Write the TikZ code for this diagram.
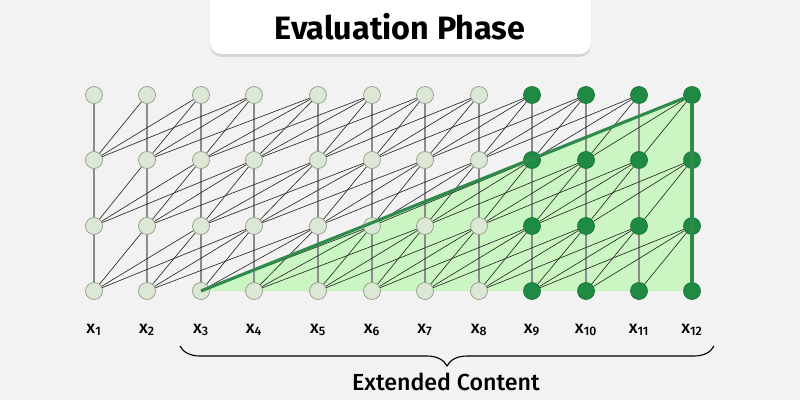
\documentclass[tikz,border=0pt]{standalone}
\usepackage{fontspec}
\setmainfont{Fira Sans}
\newfontfamily\medfont{Fira Sans Medium}
\usetikzlibrary{decorations.pathreplacing, shadows, backgrounds}

\definecolor{bgcol}{HTML}{F2F2F2}
\definecolor{tokfill}{HTML}{DCE8D3}
\definecolor{tokline}{HTML}{909C8C}
\definecolor{hotfill}{HTML}{1E8A43}
\definecolor{hotline}{HTML}{18743A}
\definecolor{fieldfill}{HTML}{CBF5C2}
\definecolor{fieldline}{HTML}{2E8B4C}

\begin{document}
\begin{tikzpicture}[x=0.025cm, y=-0.025cm,
		tok/.style = {circle, minimum size=0.425cm, inner sep=0pt, fill=tokfill, draw=tokline, line width=.5pt},
		hot/.style = {tok, fill=hotfill, draw=hotline},
		link/.style = {black!85, line width=.45pt},
		stem/.style = {gray!90, line width=.8pt},
		lbl/.style = {font=\fontsize{12.5}{14}\selectfont\medfont},
	]
		\useasboundingbox (0, 0) rectangle (800, 400);

		% tokens
		\foreach \c/\x in {1/94, 2/147, 3/201, 4/254, 5/318, 6/372, 7/425, 8/479, 9/532, 10/586, 11/639, 12/692} {
			\foreach \r/\y in {0/291, 1/226, 2/160, 3/95} {
				\ifnum\c>8
					\node[hot] (t-\r-\c) at (\x, \y) {};
				\else
					\node[tok] (t-\r-\c) at (\x, \y) {};
				\fi
			}
			\node[lbl] (x-\c) at (\x, 330) {x\textsubscript{\c}};
		}

		% background and receptive field of x12
		\begin{scope}[on background layer]
			\fill[bgcol] (0, 0) rectangle (800, 400);
			\fill[fieldfill] (t-0-3.center) -- (t-3-12.center) -- (t-0-12.center) -- cycle;
		\end{scope}

		% title
		\fill[white, rounded corners=8pt, drop shadow={shadow xshift=0pt, shadow yshift=-2pt, opacity=.25}] (210, -20) rectangle (591, 54);
		\node[font=\fontsize{23}{26}\selectfont\bfseries] (title) at (400, 27) {Evaluation Phase};

		% window of 4
		\foreach \r in {1, 2, 3} {
			\pgfmathtruncatemacro{\rr}{\r - 1}
			\foreach \c in {1, ..., 12} {
				\ifnum\c<12
					\draw[stem] (t-\r-\c) -- (t-\rr-\c);
				\fi
				\foreach \k in {1, 2, 3} {
					\pgfmathtruncatemacro{\cc}{\c - \k}
					\ifnum\cc>0
						\draw[link] (t-\r-\c) -- (t-\rr-\cc);
					\fi
				}
			}
		}

		\draw[fieldline, line width = 2.2pt] (t-0-3.center) -- (t-3-12);
		\draw[fieldline, line width = 2.2pt] (t-3-12) -- (t-0-12);

		% brace
		\coordinate (bl) at (180, 346);
		\coordinate (br) at (714, 346);
		\draw[line width=.8pt, decorate, decoration={brace, mirror, amplitude=0.5cm}] (bl) -- (br);
		\node[font=\fontsize{16.5}{19}\selectfont\medfont] (ext) at (446, 382) {Extended Content};
	\end{tikzpicture}
\end{document}
